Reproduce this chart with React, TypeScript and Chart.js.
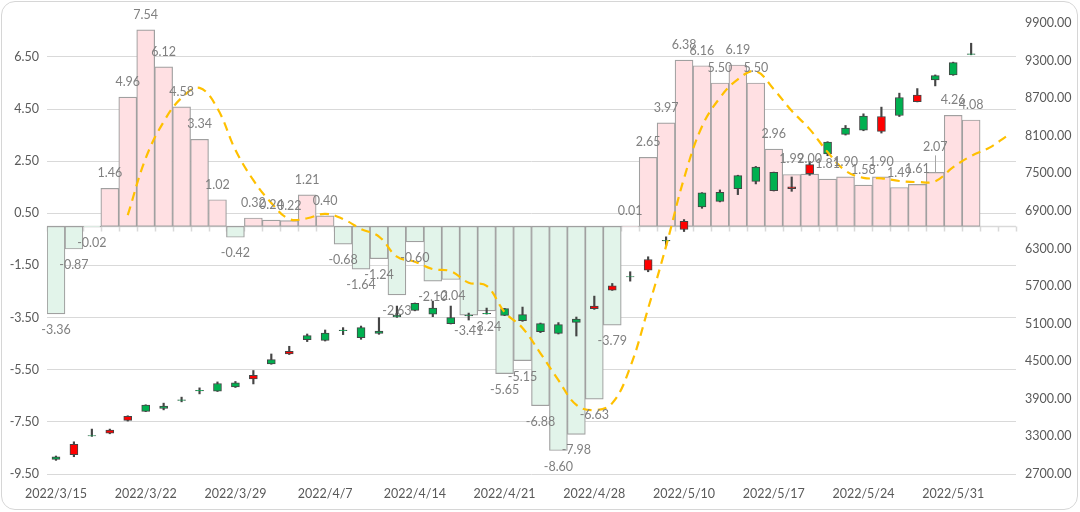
import React, { useEffect, useRef } from 'react';
import { Chart, registerables } from 'chart.js';

Chart.register(...registerables);

// ---------- data ----------
const dates = [
  '2022/3/15', '2022/3/16', '2022/3/17', '2022/3/18', '2022/3/21',
  '2022/3/22', '2022/3/23', '2022/3/24', '2022/3/25', '2022/3/28',
  '2022/3/29', '2022/3/30', '2022/3/31', '2022/4/1', '2022/4/6',
  '2022/4/7', '2022/4/8', '2022/4/11', '2022/4/12', '2022/4/13',
  '2022/4/14', '2022/4/15', '2022/4/18', '2022/4/19', '2022/4/20',
  '2022/4/21', '2022/4/22', '2022/4/25', '2022/4/26', '2022/4/27',
  '2022/4/28', '2022/4/29', '2022/5/5', '2022/5/6', '2022/5/9',
  '2022/5/10', '2022/5/11', '2022/5/12', '2022/5/13', '2022/5/16',
  '2022/5/17', '2022/5/18', '2022/5/19', '2022/5/20', '2022/5/23',
  '2022/5/24', '2022/5/25', '2022/5/26', '2022/5/27', '2022/5/30',
  '2022/5/31', '2022/6/1', '2022/6/2', '2022/6/6',
];

const changeValues = [
  -3.36, -0.87, -0.02, 1.46, 4.96, 7.54, 6.12, 4.58, 3.34, 1.02,
  -0.42, 0.32, 0.24, 0.22, 1.21, 0.40, -0.68, -1.64, -1.24, -2.63,
  -0.60, -2.10, -2.04, -3.41, -3.24, -5.65, -5.15, -6.88, -8.60, -7.98,
  -6.63, -3.79, 0.01, 2.65, 3.97, 6.38, 6.16, 5.50, 6.19, 5.50,
  2.96, 1.99, 2.00, 1.81, 1.90, 1.58, 1.90, 1.49, 1.61, 2.07,
  4.26, 4.08, null, null,
];

const avgValues = [
  null, null, null, null, 0.43, 2.61, 4.01, 4.93, 5.31, 4.52,
  2.93, 1.77, 0.90, 0.28, 0.31, 0.48, 0.28, -0.10, -0.39, -1.16,
  -1.36, -1.64, -1.72, -2.16, -2.28, -3.29, -3.90, -4.87, -5.90, -6.85,
  -7.05, -6.78, -5.40, -3.15, -0.76, 1.84, 3.83, 4.93, 5.64, 5.95,
  5.26, 4.43, 3.73, 2.85, 2.13, 1.86, 1.84, 1.74, 1.70, 1.73,
  2.27, 2.70, 3.01, 3.47,
];

const openPrices = [
  2934, 3173, 3306, 3401, 3619, 3699, 3747, 3876, 4026, 4022,
  4091, 4277, 4457, 4659, 4846, 4834, 4990, 4878, 4946, 5206,
  5312, 5253, 5100, 5225, 5255, 5233, 5148, 4973, 4946, 5121,
  5381, 5706, 5845, 6125, 6423, 6735, 6964, 7053, 7256, 7372,
  7224, 7283, 7638, 7808, 8121, 8191, 8407, 8423, 8748, 8992,
  9072, 9398, null, null,
];
const highPrices = [
  2987, 3214, 3417, 3417, 3630, 3805, 3831, 3927, 4075, 4170,
  4177, 4352, 4616, 4739, 4935, 4999, 5037, 5062, 5196, 5381,
  5430, 5460, 5381, 5269, 5349, 5345, 5365, 5110, 5117, 5206,
  5540, 5742, 5929, 6168, 6486, 6762, 7192, 7235, 7470, 7610,
  7520, 7442, 7691, 8005, 8264, 8450, 8557, 8780, 8853, 9071,
  9275, 9577, null, null,
];
const lowPrices = [
  2918, 2976, 3300, 3342, 3545, 3695, 3724, 3852, 3979, 4017,
  4081, 4138, 4452, 4607, 4814, 4823, 4925, 4850, 4930, 5200,
  5305, 5212, 5095, 5158, 5253, 5228, 5137, 4957, 4935, 4903,
  5328, 5631, 5779, 5929, 6348, 6571, 6942, 7044, 7160, 7331,
  7218, 7213, 7468, 7781, 8111, 8180, 8143, 8407, 8640, 8896,
  9065, 9392, null, null,
];
const closePrices = [
  2976, 3007, 3312, 3353, 3555, 3799, 3783, 3884, 4034, 4145,
  4154, 4218, 4527, 4616, 4909, 4951, 4998, 5037, 4983, 5237,
  5424, 5349, 5196, 5235, 5265, 5339, 5244, 5100, 5085, 5174,
  5339, 5636, 5853, 5954, 6431, 6603, 7187, 7197, 7463, 7601,
  7515, 7256, 7495, 8000, 8223, 8414, 8169, 8710, 8646, 9060,
  9268, 9406, null, null,
];

const leftTicks = [-9.5, -7.5, -5.5, -3.5, -1.5, 0.5, 2.5, 4.5, 6.5];
const rightTicks = [2700, 3300, 3900, 4500, 5100, 5700, 6300, 6900, 7500, 8100, 8700, 9300, 9900];

// ---------- style ----------
const FONT = 'Lato, "Liberation Sans", sans-serif';
const AXIS_TEXT = '#595959';
const LABEL_TEXT = '#808080';
const GRID = '#d9d9d9';
const POS_FILL = '#ffe0e3';
const NEG_FILL = '#e2f4ea';
const BAR_BORDER = '#a0a0a0';
const UP_FILL = '#00b050';
const DOWN_FILL = '#ff0000';
const CANDLE_LINE = '#454545';
const AVG_COLOR = '#ffc000';

const zeroAxisPlugin = {
  id: 'zeroAxis',
  beforeDatasetsDraw(chart: any) {
    const { ctx, chartArea, scales } = chart;
    const y0 = Math.round(scales.y.getPixelForValue(0)) + 0.5;
    const n = chart.data.labels.length;
    const step = (chartArea.right - chartArea.left) / n;
    ctx.save();
    ctx.strokeStyle = GRID;
    ctx.lineWidth = 1.5;
    ctx.beginPath();
    ctx.moveTo(chartArea.left, y0);
    ctx.lineTo(chartArea.right, y0);
    for (let i = 0; i <= n; i++) {
      const x = Math.round(chartArea.left + i * step) + 0.5;
      ctx.moveTo(x, y0);
      ctx.lineTo(x, y0 + 5);
    }
    ctx.stroke();
    ctx.restore();
  },
};

const labelLift: Record<number, number> = { 49: 10 };

const barLabelPlugin = {
  id: 'barLabels',
  afterDatasetsDraw(chart: any) {
    const { ctx } = chart;
    const meta = chart.getDatasetMeta(0);
    const values = chart.data.datasets[0].data;
    ctx.save();
    ctx.font = `12.5px ${FONT}`;
    ctx.fillStyle = LABEL_TEXT;
    ctx.textAlign = 'center';
    ctx.textBaseline = 'middle';
    meta.data.forEach((el: any, i: number) => {
      const v = values[i];
      if (v === null || v === undefined) return;
      const lift = labelLift[i] || 0;
      const y = v >= 0 ? el.y - 15 - lift : el.y + 16 + lift;
      if (lift) {
        ctx.strokeStyle = '#a6a6a6';
        ctx.lineWidth = 1;
        ctx.beginPath();
        ctx.moveTo(Math.round(el.x) + 0.5, y + 8);
        ctx.lineTo(Math.round(el.x) + 0.5, el.y);
        ctx.stroke();
      }
      ctx.fillText(v.toFixed(2), el.x, y);
    });
    ctx.restore();
  },
};

export default function App() {
  const canvasRef = useRef<HTMLCanvasElement | null>(null);

  useEffect(() => {
    if (!canvasRef.current) return;
    const bodyColors = openPrices.map((o, i) =>
      o === null ? 'transparent' : (closePrices[i] as number) >= o ? UP_FILL : DOWN_FILL
    );
    const chart = new Chart(canvasRef.current, {
      type: 'bar',
      data: {
        labels: dates,
        datasets: [
          {
            type: 'bar',
            data: changeValues as any,
            yAxisID: 'y',
            backgroundColor: changeValues.map((v) => ((v ?? 0) >= 0 ? POS_FILL : NEG_FILL)),
            borderColor: BAR_BORDER,
            borderWidth: 1.2,
            borderSkipped: false,
            barPercentage: 1,
            categoryPercentage: 1,
            grouped: false,
            order: 3,
          },
          {
            type: 'bar',
            data: lowPrices.map((l, i) => (l === null ? null : [l, highPrices[i]])) as any,
            yAxisID: 'y1',
            backgroundColor: CANDLE_LINE,
            borderWidth: 0,
            barThickness: 1.5,
            grouped: false,
            order: 2,
          },
          {
            type: 'bar',
            data: openPrices.map((o, i) => (o === null ? null : [o, closePrices[i]])) as any,
            yAxisID: 'y1',
            backgroundColor: bodyColors,
            borderColor: CANDLE_LINE,
            borderWidth: 1,
            borderSkipped: false,
            barThickness: 8,
            grouped: false,
            order: 1,
          },
          {
            type: 'line',
            data: avgValues as any,
            yAxisID: 'y',
            borderColor: AVG_COLOR,
            borderWidth: 2.2,
            borderDash: [9, 6],
            tension: 0.4,
            pointRadius: 0,
            fill: false,
            order: 0,
          } as any,
        ],
      },
      options: {
        responsive: false,
        animation: false,
        events: [],
        layout: { padding: { top: 23, left: 0, right: 0, bottom: 0 } },
        plugins: {
          legend: { display: false },
          tooltip: { enabled: false },
        },
        scales: {
          x: {
            type: 'category',
            offset: true,
            grid: { display: false, drawTicks: false },
            border: { display: false },
            ticks: {
              autoSkip: false,
              maxRotation: 0,
              minRotation: 0,
              padding: 12,
              color: AXIS_TEXT,
              font: { family: FONT, size: 12.5 },
              callback: (_v: any, i: number) => (i % 5 === 0 ? dates[i] : ''),
            },
            afterFit: (s: any) => {
              s.height = 38;
            },
          },
          y: {
            type: 'linear',
            position: 'left',
            min: -9.5,
            max: 7.8,
            grid: { color: GRID, lineWidth: 1, drawTicks: false },
            border: { display: false },
            afterBuildTicks: (s: any) => {
              s.ticks = leftTicks.map((v) => ({ value: v }));
            },
            ticks: {
              padding: 8,
              color: AXIS_TEXT,
              font: { family: FONT, size: 12.5 },
              callback: (v: any) => Number(v).toFixed(2),
            },
            afterFit: (s: any) => {
              s.width = 47;
            },
          },
          y1: {
            type: 'linear',
            position: 'right',
            min: 2700,
            max: 9900,
            grid: { display: false, drawTicks: false },
            border: { display: false },
            afterBuildTicks: (s: any) => {
              s.ticks = rightTicks.map((v) => ({ value: v }));
            },
            ticks: {
              padding: 9,
              color: AXIS_TEXT,
              font: { family: FONT, size: 12.5 },
              callback: (v: any) => Number(v).toFixed(2),
            },
            afterFit: (s: any) => {
              s.width = 64;
            },
          },
        },
      },
      plugins: [zeroAxisPlugin, barLabelPlugin],
    });
    return () => chart.destroy();
  }, []);

  return (
    <div style={{ position: 'relative', width: 1080, height: 512, background: '#fff' }}>
      <style>{'body{margin:0;}'}</style>
      <canvas ref={canvasRef} width={1080} height={512} style={{ display: 'block' }} />
      <div
        style={{
          position: 'absolute',
          left: 1,
          top: 1,
          width: 1077,
          height: 509,
          border: '1.5px solid #d6d6d6',
          borderRadius: 14,
          boxSizing: 'border-box',
          pointerEvents: 'none',
        }}
      />
    </div>
  );
}
